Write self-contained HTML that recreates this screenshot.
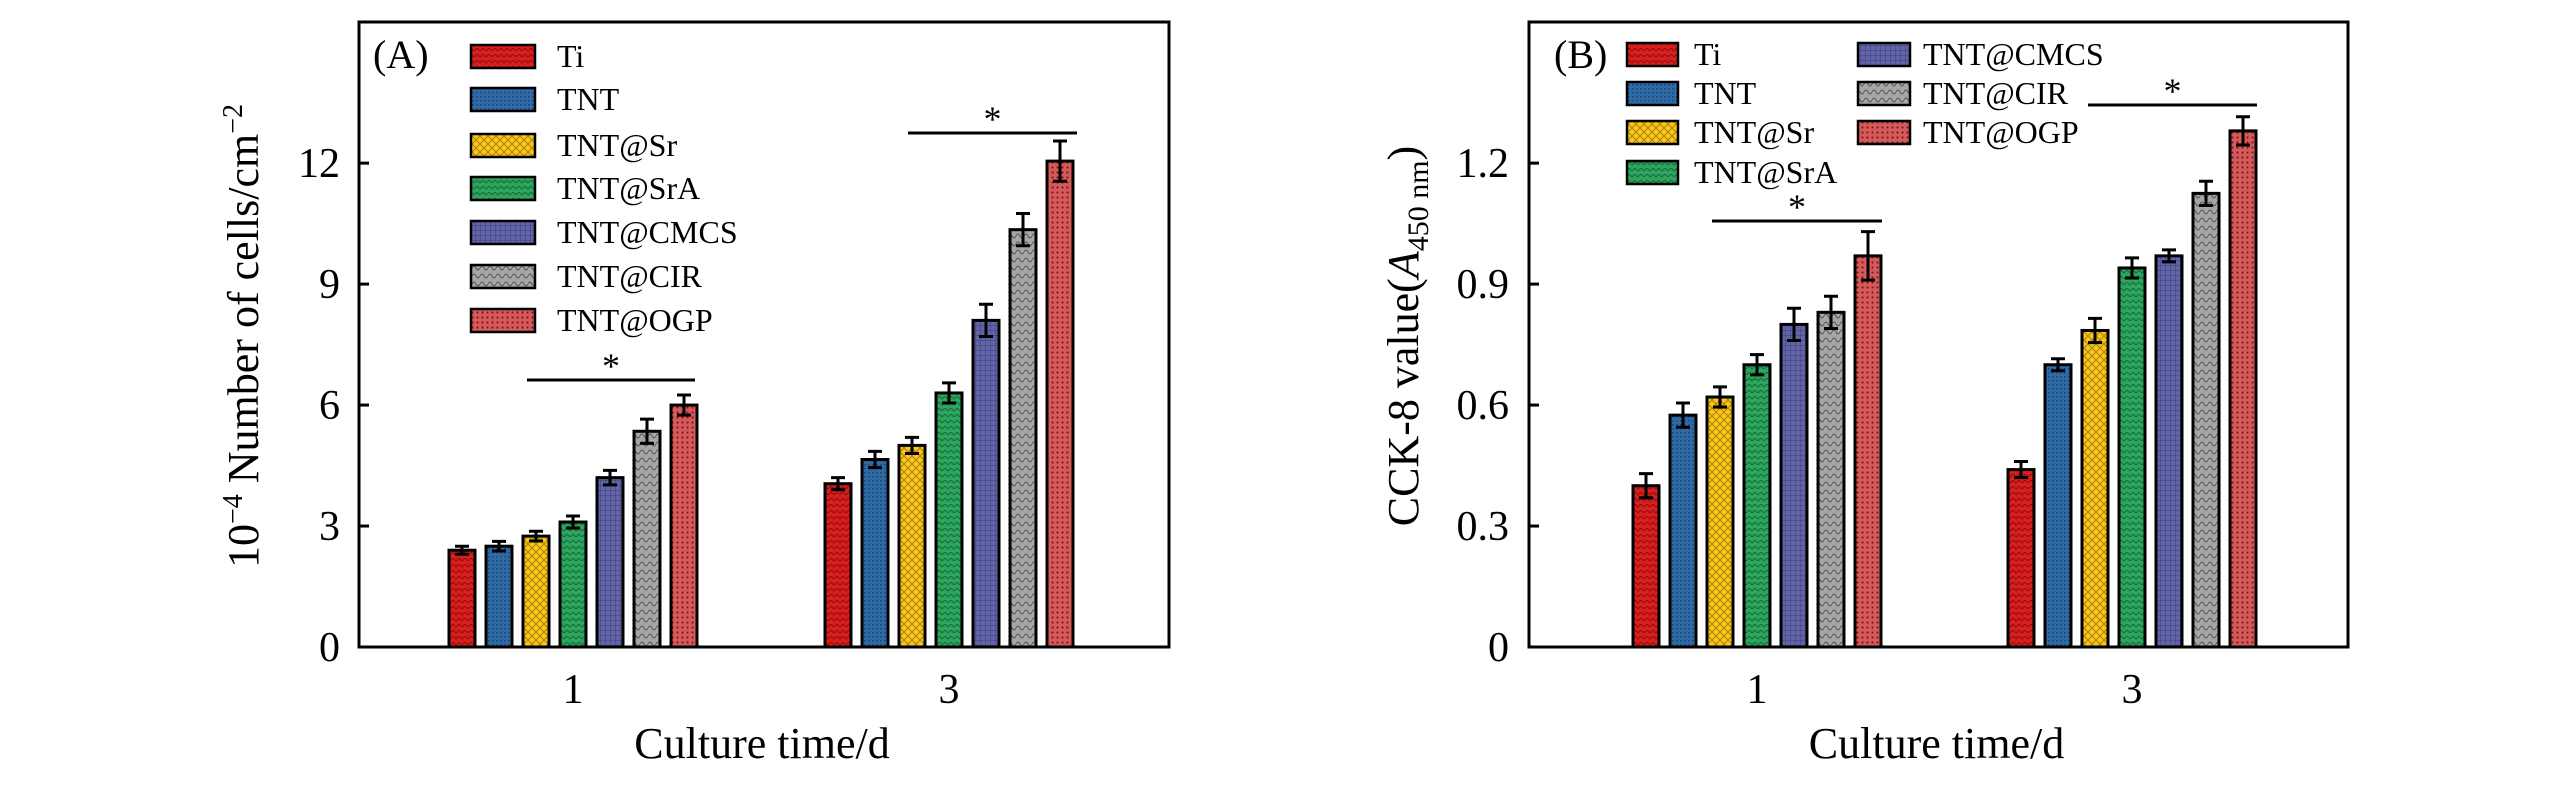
<!DOCTYPE html>
<html><head><meta charset="utf-8"><style>
html,body{margin:0;padding:0;background:#fff;}
svg{display:block;font-family:"Liberation Serif",serif;}
</style></head><body>
<svg id="chart" width="2567" height="787" viewBox="0 0 2567 787" xmlns="http://www.w3.org/2000/svg">
<defs>
<pattern id="p0" width="6" height="6" patternUnits="userSpaceOnUse"><rect width="6" height="6" fill="#d81e1e"/><path d="M0 3 L3 0 L6 3" stroke="#8a0c0c" stroke-width="1" fill="none"/></pattern>
<pattern id="p1" width="4" height="4" patternUnits="userSpaceOnUse"><rect width="4" height="4" fill="#2f6aa6"/><rect width="1.5" height="1.5" fill="#1c4470"/></pattern>
<pattern id="p2" width="8" height="8" patternUnits="userSpaceOnUse"><rect width="8" height="8" fill="#f7c81c"/><path d="M0 8 L8 0 M0 0 L8 8" stroke="#b07c08" stroke-width="1"/></pattern>
<pattern id="p3" width="6" height="6" patternUnits="userSpaceOnUse"><rect width="6" height="6" fill="#2ea55e"/><path d="M0 3 L3 0 L6 3" stroke="#136a35" stroke-width="1" fill="none"/></pattern>
<pattern id="p4" width="5" height="5" patternUnits="userSpaceOnUse"><rect width="5" height="5" fill="#6264a8"/><path d="M0 0 H5 M0 0 V5" stroke="#3c3e78" stroke-width="1"/></pattern>
<pattern id="p5" width="8" height="8" patternUnits="userSpaceOnUse"><rect width="8" height="8" fill="#a6a6a6"/><path d="M0 4 Q2 0 4 4 T8 4" stroke="#555" stroke-width="1" fill="none"/></pattern>
<pattern id="p6" width="5" height="5" patternUnits="userSpaceOnUse"><rect width="5" height="5" fill="#d65a5a"/><circle cx="2.5" cy="2.5" r="1.1" fill="#7a1c1c"/></pattern>
</defs>
</svg>
<script>
const seriesNames = ["Ti","TNT","TNT@Sr","TNT@SrA","TNT@CMCS","TNT@CIR","TNT@OGP"];
const categories = ["1","3"];
const aDay1 = [2.4,2.5,2.75,3.1,4.2,5.35,6.0];
const aDay3 = [4.05,4.65,5.0,6.3,8.1,10.35,12.05];
const aErr1 = [0.1,0.12,0.12,0.15,0.18,0.3,0.25];
const aErr3 = [0.15,0.2,0.2,0.25,0.4,0.4,0.5];
const aTicks = [0,3,6,9,12];
const aTickLabels = ["0","3","6","9","12"];
const bDay1 = [0.40,0.575,0.62,0.70,0.80,0.83,0.97];
const bDay3 = [0.44,0.70,0.785,0.94,0.97,1.125,1.28];
const bErr1 = [0.03,0.03,0.025,0.025,0.04,0.04,0.06];
const bErr3 = [0.02,0.015,0.03,0.025,0.015,0.03,0.035];
const bTicks = [0,0.3,0.6,0.9,1.2];
const bTickLabels = ["0","0.3","0.6","0.9","1.2"];

const svg = document.getElementById('chart');
const NS = "http://www.w3.org/2000/svg";
function mk(tag, attrs, parent){const e=document.createElementNS(NS,tag);for(const k in attrs)e.setAttribute(k,attrs[k]);(parent||svg).appendChild(e);return e;}

function panel(cfg){
  const g = mk('g',{});
  
  
  const L=cfg.left,R=cfg.right,T=22,B=647;
  const y = v => B - v/cfg.max*(B-T);
  const groupStart = [cfg.g1, cfg.g2];
  const step = 37, bw = 26;
  const data = [cfg.d1, cfg.d3], errs=[cfg.e1,cfg.e3];
  for(let c=0;c<2;c++){
    for(let i=0;i<seriesNames.length;i++){
      const x = groupStart[c] + i*step;
      const v = data[c][i], e = errs[c][i];
      const r = mk('rect',{x:x,y:y(v),width:bw,height:B-y(v),fill:'url(#p'+i+')',stroke:'#000','stroke-width':3},g);
      
      
      const cx=x+bw/2;
      const eb = mk('path',{d:`M${cx} ${y(v+e)} V${y(v-e)} M${cx-7} ${y(v+e)} H${cx+7} M${cx-7} ${y(v-e)} H${cx+7}`,stroke:'#000','stroke-width':3,fill:'none'},g);
      
      
    }
    const t = mk('text',{x:groupStart[c]+3*step+bw/2,y:703,'font-size':42,'text-anchor':'middle'},g);
    t.textContent = categories[c];
    
    
  }
  // frame
  const fr = mk('rect',{x:L,y:T,width:R-L,height:B-T,fill:'none',stroke:'#000','stroke-width':3},g);
  
  
  for(let k=0;k<cfg.ticks.length;k++){
    const ty=y(cfg.ticks[k]);
    mk('line',{x1:L,x2:L+10,y1:ty,y2:ty,stroke:'#000','stroke-width':3},g);
    const t = mk('text',{x:cfg.tickRight,y:ty+14,'font-size':42,'text-anchor':'end'},g);
    t.textContent = cfg.tickLabels[k];
    
    
  }
  // significance
  cfg.sig.forEach(s=>{
    const ln = mk('line',{x1:s[0],x2:s[1],y1:s[2],y2:s[2],stroke:'#000','stroke-width':3},g);
    
    
    const st = mk('text',{x:(s[0]+s[1])/2,y:s[2]-2,'font-size':36,'text-anchor':'middle'},g);
    st.textContent='*';
    
    
  });
  const xt = mk('text',{x:(L+R)/2-2,y:758,'font-size':44,'text-anchor':'middle'},g);
  xt.textContent='Culture time/d';
  
  
  const yt = mk('text',{x:0,y:0,'font-size':44,'text-anchor':'middle',transform:`translate(${cfg.ytx},336) rotate(-90)`},g);
  yt.innerHTML = cfg.ytitle;
  
  
  const pl = mk('text',{x:cfg.labelX,y:68,'font-size':40},g);
  pl.textContent=cfg.label;
  
  
  // legend
  cfg.legend.forEach((p,i)=>{
    const lr = mk('rect',{x:p[0],y:p[1]-11,width:p[2],height:23,fill:'url(#p'+i+')',stroke:'#000','stroke-width':2.5},g);
    
    
    const lt = mk('text',{x:p[3],y:p[1]+11,'font-size':32},g);
    lt.textContent=seriesNames[i];
    
    
  });
}
const rowsA=[56,99,145,188,232,276,320];
panel({name:'panel-a',left:359,right:1169,max:15.5,g1:449,g2:825,d1:aDay1,d3:aDay3,e1:aErr1,e3:aErr3,
  ticks:aTicks,tickLabels:aTickLabels,tickRight:340,
  sig:[[527,695,380],[908,1077,133]],ytx:258,
  ytitle:'10<tspan dy="-16" font-size="28">−4</tspan><tspan dy="16"> Number of cells/cm</tspan><tspan dy="-16" font-size="28">−2</tspan>',
  label:'(A)',labelX:373,
  legend:rowsA.map(r=>[471,r,64,557])});
const rowsB1=[54,93,132,172], rowsB2=[54,93,132];
const legB=[...rowsB1.map(r=>[1627,r,51,1694]),...rowsB2.map(r=>[1858,r,52,1923])];
panel({name:'panel-b',left:1529,right:2348,max:1.55,g1:1633,g2:2008,d1:bDay1,d3:bDay3,e1:bErr1,e3:bErr3,
  ticks:bTicks,tickLabels:bTickLabels,tickRight:1509,
  sig:[[1712,1882,221],[2088,2257,105]],ytx:1418,
  ytitle:'CCK-8 value(<tspan font-style="italic">A</tspan><tspan dy="10" font-size="30">450 nm</tspan><tspan dy="-10">)</tspan>',
  label:'(B)',labelX:1554,
  legend:legB});
</script>
</body></html>
